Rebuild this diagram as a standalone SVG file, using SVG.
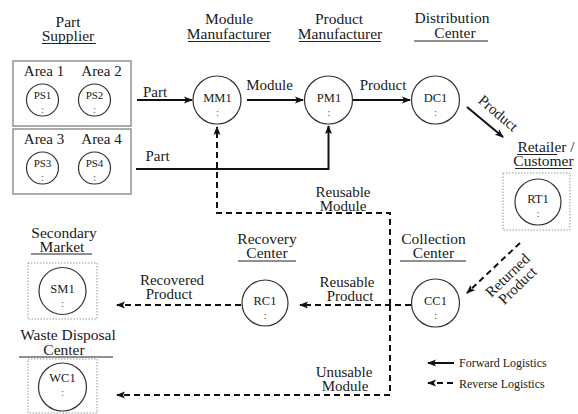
<svg xmlns="http://www.w3.org/2000/svg" width="578" height="414" viewBox="0 0 578 414">
<defs>
<marker id="ah" markerUnits="userSpaceOnUse" markerWidth="9" markerHeight="8" refX="8" refY="4" orient="auto">
<path d="M0,0.5 L9,4 L0,7.5 L2,4 z" fill="#111"/>
</marker>
<style>
text{font-family:"Liberation Serif","Times New Roman",serif;fill:#1a1a1a}
.t{font-size:15.5px;text-anchor:middle}
.l{font-size:15px;text-anchor:middle}
.n{font-size:12.5px;text-anchor:middle}
.s{font-size:11px;text-anchor:middle}
.c{font-size:11px;text-anchor:middle;fill:#555}
.g{font-size:12px}
.u{stroke:#222;stroke-width:1.1}
.ci{fill:#fff;stroke:#333;stroke-width:1.2}
.ab{fill:none;stroke:#999;stroke-width:1.6}
.db{fill:none;stroke:#999;stroke-width:1;stroke-dasharray:1.5 1.5}
.f{fill:none;stroke:#111;stroke-width:2;marker-end:url(#ah)}
.ra{fill:none;stroke:#111;stroke-width:2;stroke-dasharray:6 4;marker-end:url(#ah)}
</style>
</defs>
<rect width="578" height="414" fill="#fff"/>

<g id="titles">
<text class="t" x="68" y="27">Part</text>
<text class="t" x="68" y="41">Supplier</text>
<line class="u" x1="42" y1="43.5" x2="96" y2="43.5"/>
<text class="t" x="229" y="24">Module</text>
<text class="t" x="229" y="38.5">Manufacturer</text>
<line class="u" x1="188" y1="41.5" x2="270" y2="41.5"/>
<text class="t" x="339" y="24">Product</text>
<text class="t" x="340" y="38.5">Manufacturer</text>
<line class="u" x1="299" y1="41.5" x2="381" y2="41.5"/>
<text class="t" x="452" y="23">Distribution</text>
<text class="t" x="455" y="38">Center</text>
<line class="u" x1="414" y1="41" x2="488" y2="41"/>
<text class="t" x="546" y="151.5">Retailer /</text>
<line class="u" x1="517" y1="154.5" x2="557" y2="154.5"/>
<text class="t" x="543.5" y="166">Customer</text>
<line class="u" x1="515" y1="168.5" x2="572" y2="168.5"/>
<text class="t" x="64" y="238">Secondary</text>
<text class="t" x="62" y="251.5">Market</text>
<line class="u" x1="31" y1="254" x2="92" y2="254"/>
<text class="t" x="68" y="340">Waste Disposal</text>
<text class="t" x="64" y="354.5">Center</text>
<line class="u" x1="19" y1="357" x2="113" y2="357"/>
<text class="t" x="267" y="243.5">Recovery</text>
<text class="t" x="267" y="258">Center</text>
<line class="u" x1="238" y1="261" x2="296" y2="261"/>
<text class="t" x="433.5" y="243.5">Collection</text>
<text class="t" x="433.5" y="258">Center</text>
<line class="u" x1="400" y1="261" x2="466" y2="261"/>
</g>

<g id="supplier-area-1-2">
<rect class="ab" x="13" y="61" width="118" height="65"/>
<text class="l" x="44" y="76">Area 1</text>
<text class="l" x="101.5" y="76">Area 2</text>
</g>
<g id="PS1"><circle class="ci" cx="42.5" cy="100" r="16"/><text class="s" x="42.5" y="99">PS1</text><text class="c" x="42.5" y="113">:</text></g>
<g id="PS2"><circle class="ci" cx="94.5" cy="100" r="16"/><text class="s" x="94.5" y="99">PS2</text><text class="c" x="94.5" y="113">:</text></g>
<g id="supplier-area-3-4">
<rect class="ab" x="13" y="129" width="118" height="65"/>
<text class="l" x="44" y="143.5">Area 3</text>
<text class="l" x="101.5" y="143.5">Area 4</text>
</g>
<g id="PS3"><circle class="ci" cx="42.5" cy="168" r="16"/><text class="s" x="42.5" y="167">PS3</text><text class="c" x="42.5" y="181">:</text></g>
<g id="PS4"><circle class="ci" cx="94.5" cy="168" r="16"/><text class="s" x="94.5" y="167">PS4</text><text class="c" x="94.5" y="181">:</text></g>

<g id="MM1"><circle class="ci" cx="217" cy="100" r="24"/><text class="n" x="217.5" y="102">MM1</text><text class="c" x="217.5" y="116">:</text></g>
<g id="PM1"><circle class="ci" cx="328.5" cy="100" r="24"/><text class="n" x="329" y="102">PM1</text><text class="c" x="329" y="116">:</text></g>
<g id="DC1"><circle class="ci" cx="435.5" cy="100" r="24"/><text class="n" x="435.5" y="102">DC1</text><text class="c" x="435.5" y="116">:</text></g>
<g id="RT1"><rect class="db" x="503" y="173" width="67" height="57"/><circle class="ci" cx="538" cy="202" r="23"/><text class="n" x="538" y="203">RT1</text><text class="c" x="538" y="217">:</text></g>
<g id="CC1"><circle class="ci" cx="435.5" cy="303" r="24"/><text class="n" x="435.5" y="305">CC1</text><text class="c" x="435.5" y="319">:</text></g>
<g id="RC1"><circle class="ci" cx="265" cy="303" r="23"/><text class="n" x="265" y="305">RC1</text><text class="c" x="265" y="319">:</text></g>
<g id="SM1"><rect class="db" x="28" y="263" width="69" height="56"/><circle class="ci" cx="62.5" cy="291" r="23.5"/><text class="n" x="62.5" y="293">SM1</text><text class="c" x="62.5" y="307">:</text></g>
<g id="WC1"><rect class="db" x="28" y="359" width="69" height="54"/><circle class="ci" cx="62.5" cy="387" r="24"/><text class="n" x="62.5" y="382">WC1</text><text class="c" x="62.5" y="396">:</text></g>

<g id="connectors">
<path class="f" d="M137,100 H192"/>
<path class="f" d="M247,100 H303"/>
<path class="f" d="M353,100 H410"/>
<path class="f" d="M467,107 L503,137"/>
<path class="f" d="M136,169 H328.5 V126"/>
<path class="ra" d="M390,305 V213 H217 V127"/>
<path class="ra" d="M390,305 V395 H117"/>
<path class="ra" d="M411,305 H300"/>
<path class="ra" d="M241,305 H117"/>
<path class="ra" d="M520,243 L467,293"/>
<path class="f" d="M454,363 H428"/>
<path class="ra" d="M453,383 H428"/>
</g>

<g id="labels">
<text class="l" x="155" y="97">Part</text>
<text class="l" x="269.5" y="90">Module</text>
<text class="l" x="383" y="90">Product</text>
<text class="l" x="0" y="0" transform="translate(495,117) rotate(40.5)">Product</text>
<text class="l" x="157.5" y="161">Part</text>
<text class="l" x="343" y="197">Reusable</text>
<text class="l" x="343" y="210.5">Module</text>
<text class="l" x="347" y="287">Reusable</text>
<text class="l" x="350" y="301">Product</text>
<text class="l" x="172" y="285">Recovered</text>
<text class="l" x="169" y="299">Product</text>
<text class="l" x="344" y="377">Unusable</text>
<text class="l" x="345" y="390.5">Module</text>
<text class="l" x="0" y="0" transform="translate(511,279) rotate(-44)">Returned</text>
<text class="l" x="0" y="0" transform="translate(521,289) rotate(-44)">Product</text>
<text class="g" x="459" y="366.5">Forward Logistics</text>
<text class="g" x="459" y="387.5">Reverse Logistics</text>
</g>
</svg>
